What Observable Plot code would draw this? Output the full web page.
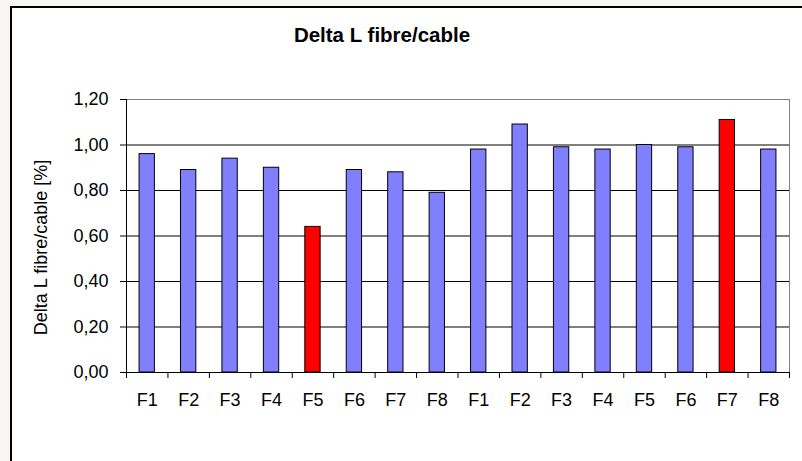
<!DOCTYPE html>
<html>
<head>
<meta charset="utf-8">
<script src="https://cdn.jsdelivr.net/npm/d3@7"></script>
<script src="https://cdn.jsdelivr.net/npm/@observablehq/plot@0.6"></script>
<style>
  html, body { margin: 0; padding: 0; width: 802px; height: 461px; overflow: hidden; background: #f7f6f2; }
  #box { position: absolute; left: 10px; top: 6px; width: 820px; height: 480px;
         border-left: 2px solid #000; border-top: 2px solid #000; background: #fff; }
  #title { position: absolute; left: 232px; top: 25px; width: 300px; text-align: center;
           font: bold 20.5px/20px "Liberation Sans", Arial, sans-serif; color: #000; }
  #chart { position: absolute; left: 0; top: 0; }
</style>
</head>
<body>
<div id="box"></div>
<div id="title">Delta L fibre/cable</div>
<div id="chart"></div>
<script>
// Fibre groups F1–F8, measured twice
const categories = ["F1", "F2", "F3", "F4", "F5", "F6", "F7", "F8",
                    "F1", "F2", "F3", "F4", "F5", "F6", "F7", "F8"];
// Delta L fibre/cable in percent
const values = [0.96, 0.89, 0.94, 0.90, 0.64, 0.89, 0.88, 0.79,
                0.98, 1.09, 0.99, 0.98, 1.00, 0.99, 1.11, 0.98];
// Positions of the outlying fibres
const flagged = [4, 14];
const yTicks = [0, 0.2, 0.4, 0.6, 0.8, 1.0, 1.2];
const yLabel = "Delta L fibre/cable [%]";

const rows = values.map((v, i) => ({
  x1: i + 0.315,
  x2: i + 0.685,
  value: v,
  status: flagged.includes(i) ? "flagged" : "normal"
}));

const commaFormat = d => d3.format(".2f")(d).replace(".", ",");

const chart = Plot.plot({
  width: 802,
  height: 461,
  marginLeft: 126,
  marginRight: 13,
  marginTop: 99,
  marginBottom: 89,
  style: {
    background: "transparent",
    fontFamily: "'Liberation Sans', Arial, sans-serif",
    fontSize: "18px",
    color: "#000",
    overflow: "visible"
  },
  x: {domain: [0, categories.length]},
  y: {domain: [0, 1.2]},
  color: {domain: ["normal", "flagged"], range: ["#8080ff", "#ff0000"]},
  marks: [
    Plot.ruleY(yTicks.slice(1, -1), {stroke: "#000"}),
    Plot.ruleY([1.2], {stroke: "#808080"}),
    Plot.ruleX([categories.length], {stroke: "#808080"}),
    Plot.rectY(rows, {x1: "x1", x2: "x2", y: "value", fill: "status", stroke: "#000", strokeWidth: 1}),
    Plot.ruleX([0], {stroke: "#000"}),
    Plot.ruleY([0], {stroke: "#000"}),
    Plot.axisY({ticks: yTicks, tickFormat: commaFormat, tickSize: 6, tickPadding: 12, label: null}),
    Plot.axisX({ticks: d3.range(categories.length + 1), tickSize: 6, tickFormat: () => "", label: null}),
    Plot.axisX({ticks: d3.range(categories.length).map(i => i + 0.5), tickSize: 0, tickPadding: 21,
                tickFormat: (d, i) => categories[i], label: null}),
    Plot.text([yLabel], {frameAnchor: "left", textAnchor: "middle", dx: -85, dy: 11.5, rotate: -90, fontSize: 18})
  ]
});

document.getElementById("chart").appendChild(chart);
</script>
</body>
</html>
